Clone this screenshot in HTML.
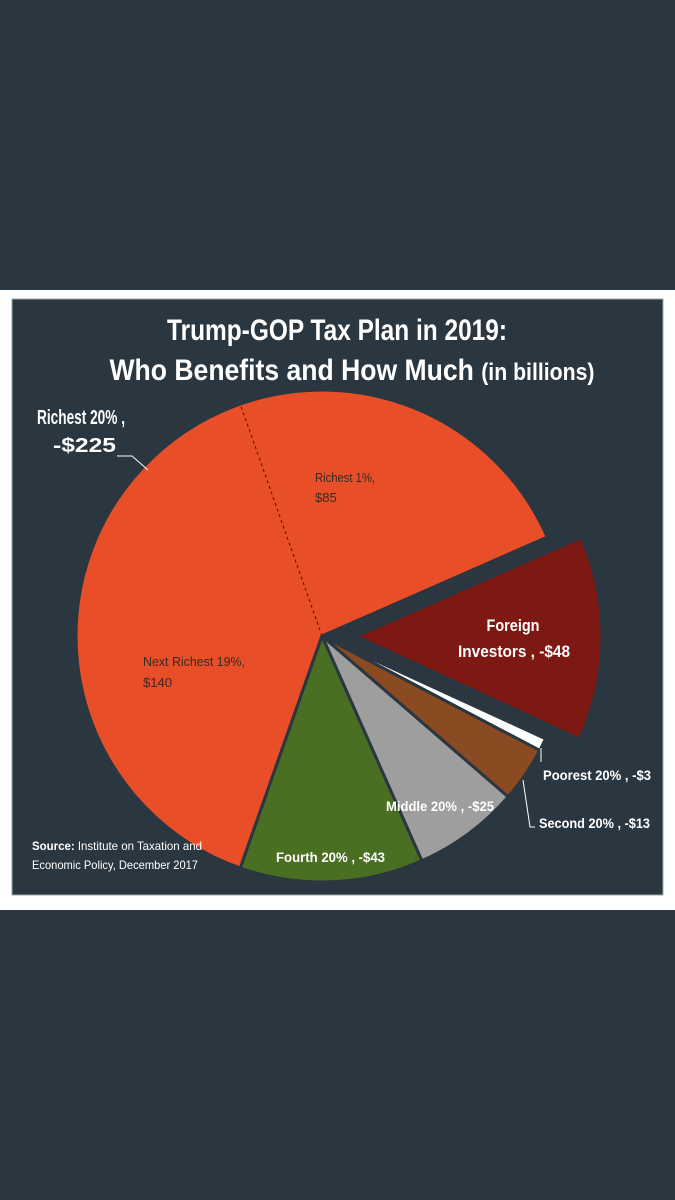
<!DOCTYPE html>
<html><head><meta charset="utf-8"><style>
html,body{margin:0;padding:0;background:#2a3640;}
svg{display:block}
text{font-family:"Liberation Sans Narrow","Liberation Sans",sans-serif;}
</style></head><body>
<svg width="675" height="1200" viewBox="0 0 675 1200">
<rect x="0" y="0" width="675" height="1200" fill="#2a3640"/>
<rect x="0" y="290" width="675" height="620" fill="#ffffff"/>
<rect x="12" y="299" width="651" height="596" fill="#2a3640" stroke="#9aa" stroke-width="1"/>
<text x="337" y="340" text-anchor="middle" fill="#fff" font-size="30" font-weight="bold" textLength="340" lengthAdjust="spacingAndGlyphs">Trump-GOP Tax Plan in 2019:</text>
<text x="352" y="380" text-anchor="middle" fill="#fff" font-size="30" font-weight="bold" textLength="485" lengthAdjust="spacingAndGlyphs">Who Benefits and How Much <tspan font-size="24">(in billions)</tspan></text>
<g id="pie"></g>
<text x="37" y="424" fill="#fff" font-size="20" font-weight="bold" textLength="88" lengthAdjust="spacingAndGlyphs">Richest 20% ,</text>
<text x="53" y="452" fill="#fff" font-size="20" font-weight="bold" textLength="63" lengthAdjust="spacingAndGlyphs">-$225</text>
<polyline points="117,456 132,456 148,470" fill="none" stroke="#fff" stroke-width="1"/>
<text x="315" y="482" fill="#3a2a20" font-size="13" textLength="60" lengthAdjust="spacingAndGlyphs">Richest 1%,</text>
<text x="315" y="502" fill="#3a2a20" font-size="13">$85</text>
<text x="143" y="666" fill="#3a2a20" font-size="13" textLength="102" lengthAdjust="spacingAndGlyphs">Next Richest 19%,</text>
<text x="143" y="687" fill="#3a2a20" font-size="13">$140</text>
<text x="513" y="631" text-anchor="middle" fill="#fff" font-size="17" font-weight="bold" textLength="53" lengthAdjust="spacingAndGlyphs">Foreign</text>
<text x="514" y="657" text-anchor="middle" fill="#fff" font-size="17" font-weight="bold" textLength="112" lengthAdjust="spacingAndGlyphs">Investors , -$48</text>
<line x1="541" y1="748" x2="541" y2="762" stroke="#fff" stroke-width="1"/>
<text x="543" y="780" fill="#fff" font-size="14" font-weight="bold" textLength="108" lengthAdjust="spacingAndGlyphs">Poorest 20% , -$3</text>
<polyline points="523,780 530,827 535,827" fill="none" stroke="#fff" stroke-width="1"/>
<text x="539" y="828" fill="#fff" font-size="14" font-weight="bold" textLength="111" lengthAdjust="spacingAndGlyphs">Second 20% , -$13</text>
<text x="386" y="811" fill="#fff" font-size="14" font-weight="bold" textLength="108" lengthAdjust="spacingAndGlyphs">Middle 20% , -$25</text>
<text x="276" y="862" fill="#fff" font-size="14" font-weight="bold" textLength="109" lengthAdjust="spacingAndGlyphs">Fourth 20% , -$43</text>
<text x="32" y="850" fill="#fff" font-size="12" textLength="170" lengthAdjust="spacingAndGlyphs"><tspan font-weight="bold">Source:</tspan> Institute on Taxation and</text>
<text x="32" y="869" fill="#fff" font-size="12" textLength="166" lengthAdjust="spacingAndGlyphs">Economic Policy, December 2017</text>
</svg>
<script>
const categories = ["Richest 20%","Foreign Investors","Poorest 20%","Second 20%","Middle 20%","Fourth 20%"];
const values = [225,48,3,13,25,43];
const richest1 = [85];
const colors = ["#e84e27","#7d1812","#ffffff","#8a4a22","#9e9e9e","#4a6e22"];
const explode = [0,34,0,0,0,0];
const cx=322, cy=636, R=246, startDeg=199.4;
const total = values.reduce((a,b)=>a+b,0);
function pt(deg,r,ox,oy){const a=deg*Math.PI/180;return [cx+ox+r*Math.sin(a), cy+oy-r*Math.cos(a)];}
const g=document.getElementById('pie');
const NS='http://www.w3.org/2000/svg';
let ang=startDeg;
values.forEach((v,i)=>{
  const span=v/total*360, a0=ang, a1=ang+span, mid=(a0+a1)/2*Math.PI/180;
  const ox=explode[i]*Math.sin(mid), oy=-explode[i]*Math.cos(mid);
  const p0=pt(a0,R,ox,oy), p1=pt(a1,R,ox,oy);
  const large=span>180?1:0;
  const p=document.createElementNS(NS,'path');
  p.setAttribute('d',`M${cx+ox},${cy+oy} L${p0[0]},${p0[1]} A${R},${R} 0 ${large} 1 ${p1[0]},${p1[1]} Z`);
  p.setAttribute('fill',colors[i]);
  p.setAttribute('stroke','#2a3640');
  p.setAttribute('stroke-width','3');
  p.setAttribute('stroke-linejoin','round');
  
  
  g.appendChild(p);
  if(i===0){
    const d=a1-richest1[0]/total*360;
    const q=pt(d,R,0,0);
    const l=document.createElementNS(NS,'line');
    l.setAttribute('x1',cx);l.setAttribute('y1',cy);l.setAttribute('x2',q[0]);l.setAttribute('y2',q[1]);
    l.setAttribute('stroke','#3a1a10');l.setAttribute('stroke-width','1');l.setAttribute('stroke-dasharray','3,3');
    
    
    g.appendChild(l);
  }
  ang=a1;
});
</script>
</body></html>
